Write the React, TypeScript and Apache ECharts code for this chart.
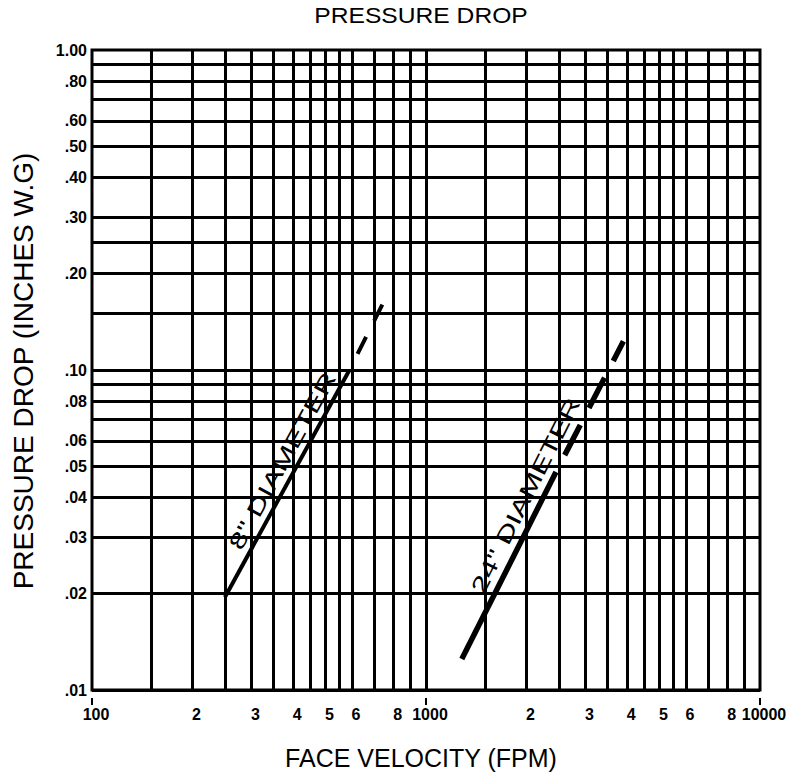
import React, { useEffect, useRef } from 'react';
import * as echarts from 'echarts';

// Grid lines of the log-log paper
const xGridValues = [150, 200, 250, 300, 350, 400, 450, 500, 550, 600, 700, 800, 900, 1000, 1500, 2000, 2500, 3000, 3500, 4000, 4500, 5000, 5500, 6000, 7000, 8000, 9000];
const yGridValues = [0.9, 0.8, 0.7, 0.6, 0.5, 0.4, 0.3, 0.25, 0.2, 0.15, 0.1, 0.09, 0.08, 0.07, 0.06, 0.05, 0.04, 0.03, 0.025, 0.02, 0.015];

// Tick labels
const xTickValues = [100, 200, 300, 400, 500, 600, 800, 1000, 2000, 3000, 4000, 5000, 6000, 8000, 10000];
const xTickLabels = ['100', '2', '3', '4', '5', '6', '8', '1000', '2', '3', '4', '5', '6', '8', '10000'];
const xMarkValues = [100, 1000, 10000];
const yTickValues = [1, 0.8, 0.6, 0.5, 0.4, 0.3, 0.2, 0.1, 0.08, 0.06, 0.05, 0.04, 0.03, 0.02, 0.01];
const yTickLabels = ['1.00', '.80', '.60', '.50', '.40', '.30', '.20', '.10', '.08', '.06', '.05', '.04', '.03', '.02', '.01'];

// Series: [face velocity (FPM), pressure drop (in. W.G.)]
const dia8Solid = [[250, 0.0195], [590, 0.10]];
const dia8Dashed = [[590, 0.10], [740, 0.16]];
const dia24Solid = [[1280, 0.0125], [2450, 0.048]];
const dia24Dashed = [[2450, 0.048], [3900, 0.123]];

const lineLabels = [
  { text: '8" DIAMETER', at: [372, 0.052], line: dia8Solid },
  { text: '24" DIAMETER', at: [1990, 0.0405], line: dia24Solid },
];

const FONT = '"Liberation Sans", Arial, Helvetica, sans-serif';

const lookup = (vals: number[], labels: string[]) => (v: number) => {
  let best = 0;
  for (let i = 1; i < vals.length; i++) {
    if (Math.abs(Math.log(vals[i] / v)) < Math.abs(Math.log(vals[best] / v))) best = i;
  }
  return labels[best];
};

export default function App() {
  const ref = useRef<HTMLDivElement>(null);
  useEffect(() => {
    if (!ref.current) return;
    const chart = echarts.init(ref.current, null, { renderer: 'svg' });
    const tickFont = { fontFamily: FONT, fontSize: 16, fontWeight: 'bold' as const, color: '#000' };
    const option: any = {
      animation: false,
      backgroundColor: '#fff',
      grid: { left: 92, right: 35, top: 50, bottom: 86, show: true, borderColor: '#000', borderWidth: 3, backgroundColor: 'transparent' },
      xAxis: {
        type: 'log', logBase: 10, min: 100, max: 10000, offset: 8,
        axisLine: { show: false },
        axisTick: { show: true, customValues: xMarkValues, length: 7, lineStyle: { color: '#000', width: 2 } },
        axisLabel: { ...tickFont, customValues: xTickValues, margin: 8, padding: [0, 0, 0, 8], formatter: lookup(xTickValues, xTickLabels) },
        splitLine: { show: false },
        minorTick: { show: false },
      },
      yAxis: {
        type: 'log', logBase: 10, min: 0.01, max: 1,
        axisLine: { show: false },
        axisTick: { show: false },
        axisLabel: { ...tickFont, customValues: yTickValues, margin: 5, formatter: lookup(yTickValues, yTickLabels) },
        splitLine: { show: false },
      },
      graphic: [
        { type: 'text', x: 421, y: 15, scaleX: 1.12, style: { text: 'PRESSURE DROP', fontFamily: FONT, fontSize: 22, fill: '#000', textAlign: 'center', textVerticalAlign: 'middle', align: 'center', verticalAlign: 'middle' } },
        { type: 'text', x: 421, y: 758, style: { text: 'FACE VELOCITY (FPM)', fontFamily: FONT, fontSize: 25, fill: '#000', textAlign: 'center', textVerticalAlign: 'middle', align: 'center', verticalAlign: 'middle' } },
        { type: 'text', x: 23, y: 371, rotation: Math.PI / 2, style: { text: 'PRESSURE DROP (INCHES W.G)', fontFamily: FONT, fontSize: 28, fill: '#000', textAlign: 'center', textVerticalAlign: 'middle', align: 'center', verticalAlign: 'middle' } },
      ],
      series: [
        {
          name: '8" DIAMETER', type: 'line', data: dia8Solid, symbol: 'none', z: 3, clip: false,
          lineStyle: { color: '#000', width: 4, cap: 'butt' },
          markLine: {
            silent: true, z: 1, symbol: ['none', 'none'], label: { show: false }, animation: false,
            lineStyle: { color: '#000', width: 3, type: 'solid' },
            emphasis: { disabled: true },
            data: [...xGridValues.map((v) => ({ xAxis: v })), ...yGridValues.map((v) => ({ yAxis: v }))],
          },
        },
        {
          name: '8" DIAMETER (extrapolated)', type: 'line', data: dia8Dashed, symbol: 'none', z: 3, clip: false,
          lineStyle: { color: '#000', width: 4, cap: 'butt', type: [19, 18], dashOffset: 19 },
        },
        {
          name: '24" DIAMETER', type: 'line', data: dia24Solid, symbol: 'none', z: 3, clip: false,
          lineStyle: { color: '#000', width: 5.5, cap: 'butt' },
        },
        {
          name: '24" DIAMETER (extrapolated)', type: 'line', data: dia24Dashed, symbol: 'none', z: 3, clip: false,
          lineStyle: { color: '#000', width: 5.5, cap: 'butt', type: [34, 19], dashOffset: 34 },
        },
      ],
    };
    chart.setOption(option);

    const labelGraphics = lineLabels.map((l) => {
      const p = chart.convertToPixel({ gridIndex: 0 }, l.at) as number[];
      const a = chart.convertToPixel({ gridIndex: 0 }, l.line[0]) as number[];
      const b = chart.convertToPixel({ gridIndex: 0 }, l.line[1]) as number[];
      const ang = Math.atan2(a[1] - b[1], b[0] - a[0]);
      return {
        type: 'text', x: p[0], y: p[1], rotation: ang, scaleX: 1.42, z: 10,
        style: { text: l.text, fontFamily: FONT, fontSize: 22, fill: '#000', textAlign: 'center', textVerticalAlign: 'middle', align: 'center', verticalAlign: 'middle' },
      };
    });
    chart.setOption({ graphic: [...option.graphic, ...labelGraphics] });

    return () => chart.dispose();
  }, []);
  return <div ref={ref} style={{ position: 'fixed', left: 0, top: 0, width: 795, height: 776, background: '#fff' }} />;
}
